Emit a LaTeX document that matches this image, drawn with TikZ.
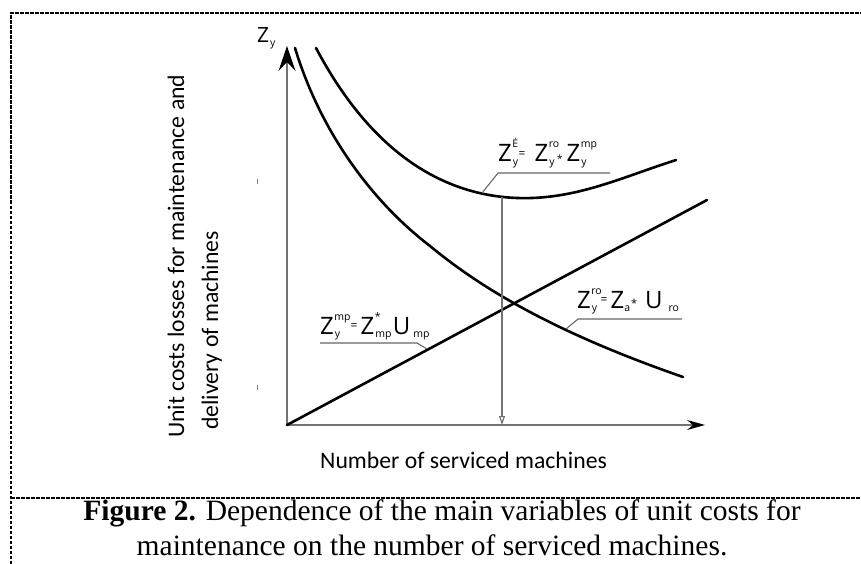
\documentclass[tikz,border=0pt]{standalone}
\usepackage{fontspec}
\setmainfont{Liberation Serif}
\newfontfamily\axisfont{Carlito}
\newfontfamily\labfont{Open Sans}
\usetikzlibrary{arrows.meta}
% small index font for the formula labels
\newcommand\scr{\labfont\fontsize{10.5}{10.5}\selectfont}
% stacked superscript / subscript after a letter; the advance follows the subscript
\newcommand\supsub[2]{%
  \setbox0\hbox{\scr #1}\setbox2\hbox{\scr #2}%
  \dimen0=\wd2 \advance\dimen0 by 1.5pt
  \rlap{\kern0.5pt\raise14pt\box0}\rlap{\kern1pt\lower3.5pt\box2}\kern\dimen0 }
\newcommand\subonly[1]{\lower3.5pt\hbox{\scr #1}}
\newcommand\eqs{\raisebox{5pt}{\labfont\fontsize{12}{12}\selectfont=}}
\newcommand\mulsign{\kern1pt\raisebox{1pt}{\labfont\fontsize{11}{11}\selectfont*}}
\newcommand\lowmul{\kern2pt\raisebox{-1pt}{\labfont\fontsize{10}{10}\selectfont*}}
\newcommand\gap[1]{\kern#1pt\relax}
\begin{document}
\begin{tikzpicture}[x=1pt,y=-1pt,
  border/.style={line width=1.1pt, dash pattern=on 3.5pt off 1.5pt},
  axis/.style={draw=black!55, line width=1.2pt},
  curve/.style={line width=2.6pt, line cap=round},
  leader/.style={draw=black!60, line width=1.1pt},
  formula/.style={font=\labfont\fontsize{24}{24}\selectfont, inner sep=0pt, anchor=base west},
  axlabel/.style={font=\axisfont\fontsize{23.7}{24}\selectfont, inner sep=0pt, anchor=base west},
  captext/.style={font=\fontsize{29.5}{36}\selectfont, inner sep=0pt, anchor=base},
  tickmark/.style={draw=black!50, line width=0.8pt}]
\useasboundingbox (0,0) rectangle (861,564);

% frame of the figure
\draw[border] (11,564) -- (11,13) -- (861,13);
\draw[border] (11,498) -- (861,498);

% axes
\coordinate (O) at (287,425);
\coordinate (ytip) at (287,46);
\coordinate (xtip) at (705,425);
\draw[axis, -{Stealth[length=25pt,width=17pt,inset=9pt,black]}] (O) -- (ytip);
\draw[axis, -{Stealth[length=18pt,width=10pt,inset=6pt,black]}] (O) -- (xtip);

% small ticks on the left
\draw[tickmark] (257,179) -- (257,184);
\draw[tickmark] (257,385) -- (257,390);

% linear cost line
\coordinate (Cend) at (707,200);
\draw[curve] (O) -- (Cend);

% decreasing cost curve
\draw[curve] (295,48) .. controls (320,130) and (370,200) .. (430,246)
                      .. controls (488,294) and (565,336) .. (683,377);

% total cost curve
\draw[curve] (316,48) .. controls (370,150) and (440,195) .. (517,198)
                      .. controls (575,200) and (620,178) .. (676,160);

% optimum marker down to the horizontal axis
\coordinate (minB) at (502,197);
\coordinate (minX) at (502,425);
\draw[axis, -{Triangle[open,length=9pt,width=6pt]}] (minB) -- (minX);

% leader lines of the formulas
\coordinate (p1) at (482,193);
\coordinate (k1) at (498,173);
\coordinate (e1) at (610,173);
\draw[leader] (p1) -- (k1) -- (e1);
\coordinate (p2) at (427,349);
\coordinate (k2) at (417,343);
\coordinate (e2) at (320,343);
\draw[leader] (p2) -- (k2) -- (e2);
\coordinate (p3) at (566,329);
\coordinate (k3) at (578,319);
\coordinate (e3) at (682,319);
\draw[leader] (p3) -- (k3) -- (e3);

% formulas
\node[formula] (f1) at (498,162)
  {Z\supsub{Ė}{y}\eqs\gap{9}Z\supsub{ro}{y}\lowmul\gap{4}Z\supsub{mp}{y}};
\node[formula] (f2) at (320,334)
  {Z\supsub{mp}{y}\gap{10}\eqs\gap{3}Z\supsub{*}{mp}\gap{1}U\gap{3}\subonly{mp}};
\node[formula] (f3) at (577,308)
  {Z\supsub{ro}{y}\gap{3}\eqs\gap{3}Z\subonly{a}\mulsign\gap{8}U\gap{6}\subonly{ro}};

% axis titles
\node[formula, font=\labfont\fontsize{21}{21}\selectfont] (zy) at (257,43) {Z\gap{1}\subonly{y}};
\node[axlabel, rotate=90] (yl1) at (184,438) {Unit costs losses for maintenance and};
\node[axlabel, rotate=90] (yl2) at (218,430) {delivery of machines};
\node[axlabel] (xl) at (320,468) {Number of serviced machines};

% caption
\node[captext] (cap1) at (442,520)
  {\textbf{Figure 2.} Dependence of the main variables of unit costs for};
\node[captext] (cap2) at (432,555)
  {maintenance on the number of serviced machines.};
\end{tikzpicture}
\end{document}
